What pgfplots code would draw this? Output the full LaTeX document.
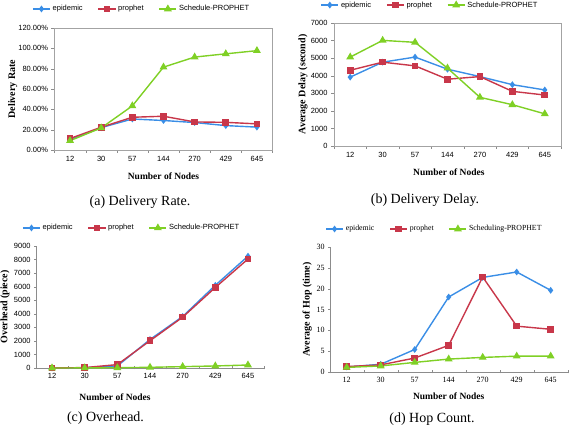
\documentclass[border=0pt]{standalone}
\usepackage{fontspec}
\setmainfont{Liberation Serif}
\setsansfont{Liberation Sans}
\usepackage{pgfplots}
\pgfplotsset{compat=1.18}
\definecolor{epi}{HTML}{3A8EE6}
\definecolor{pro}{HTML}{C8374A}
\definecolor{sch}{HTML}{7FD025}
\definecolor{axgray}{HTML}{8C8C8C}
\pgfplotsset{
  panel/.style={
    scale only axis, xmin=-0.5, xmax=6.5, ymin=0,
    xtick={0,...,6}, xticklabels={12,30,57,144,270,429,645},
    minor xtick={-0.5,0.5,...,6.5},
    major x tick style={draw=none},
    minor x tick style={axgray},
    y tick style={axgray},
    tick align=outside, xtick pos=left, ytick pos=left,
    major tick length=3pt, minor tick length=3pt,
    axis line style={axgray},
    /pgf/number format/assume math mode=true,
    /pgf/number format/set thousands separator={},
    tick label style={font=\sffamily\fontsize{7.5}{8}\selectfont},
    xlabel={Number of Nodes},
    xlabel style={font=\bfseries\fontsize{9.5}{11}\selectfont, anchor=center},
    ylabel style={font=\bfseries\fontsize{10}{11}\selectfont, anchor=center, rotate=0},
    legend columns=3,
    legend style={draw=none, fill=none, anchor=center, font=\sffamily\fontsize{7.5}{8}\selectfont,
      /tikz/every even column/.append style={column sep=13pt}},
    legend cell align=left,
    clip=false,
  },
  epis/.style={color=epi, line width=1.4pt, mark=diamond*, mark size=2.3pt, mark options={solid}},
  pros/.style={color=pro, line width=1.4pt, mark=square*, mark size=2.6pt},
  schs/.style={color=sch, line width=1.4pt, mark=triangle*, mark size=3.2pt},
}
\begin{document}
\begin{tikzpicture}
\path[use as bounding box] (0pt,0pt) rectangle (570pt,427pt);
% (a) Delivery Rate
\begin{axis}[panel, at={(54.5pt,277pt)}, anchor=south west, width=218pt, height=122pt,
  ymax=120, ytick={0,20,...,120},
  yticklabels={0.00\%,20.00\%,40.00\%,60.00\%,80.00\%,100.00\%,120.00\%},
  ylabel={Delivery Rate},
  xlabel style={at={(axis description cs:0.5,-0.213)}},
  ylabel style={at={(axis description cs:-0.192,0.5)}},
  legend style={at={(axis description cs:0.40,1.156)}},
  axis line style={draw=axgray!80}]
\addplot[epis] coordinates {(0,10) (1,22) (2,30.5) (3,29) (4,27) (5,24) (6,22.5)};
\addplot[pros] coordinates {(0,11.3) (1,22.4) (2,32.2) (3,33.2) (4,27.6) (5,27.2) (6,25.7)};
\addplot[schs] coordinates {(0,9.2) (1,21.7) (2,43.4) (3,81.5) (4,91.4) (5,94.6) (6,97.7)};
\legend{epidemic,prophet,Schedule-PROPHET}
\end{axis}
% (b) Delivery Delay
\begin{axis}[panel, at={(334pt,281pt)}, anchor=south west, width=227pt, height=123pt,
  ymax=7000, ytick={0,1000,...,7000},
  ylabel={Average Delay (second)},
  xlabel style={at={(axis description cs:0.506,-0.211)}},
  ylabel style={at={(axis description cs:-0.137,0.5)}},
  legend style={at={(axis description cs:0.423,1.146)}},
  axis line style={draw=axgray!80}]
\addplot[epis] coordinates {(0,3920) (1,4770) (2,5060) (3,4370) (4,3950) (5,3490) (6,3190)};
\addplot[pros] coordinates {(0,4310) (1,4770) (2,4560) (3,3800) (4,3950) (5,3110) (6,2900)};
\addplot[schs] coordinates {(0,5060) (1,6010) (2,5900) (3,4430) (4,2770) (5,2350) (6,1830)};
\legend{epidemic,prophet,Schedule-PROPHET}
\end{axis}
% (c) Overhead
\begin{axis}[panel, at={(35.7pt,59pt)}, anchor=south west, width=228.6pt, height=122pt,
  axis x line=bottom, axis y line=left, x axis line style={-}, y axis line style={-},
  ymax=9000, ytick={0,1000,...,9000},
  ylabel={Overhead (piece)},
  xlabel style={at={(axis description cs:0.347,-0.238)}},
  ylabel style={at={(axis description cs:-0.134,0.5)}},
  legend style={at={(axis description cs:0.42,1.148)}}]
\addplot[epis] coordinates {(0,0) (1,20) (2,150) (3,2100) (4,3800) (5,6100) (6,8250)};
\addplot[pros] coordinates {(0,0) (1,30) (2,250) (3,2010) (4,3750) (5,5940) (6,8040)};
\addplot[schs] coordinates {(0,0) (1,5) (2,20) (3,50) (4,100) (5,150) (6,220)};
\legend{epidemic,prophet,Schedule-PROPHET}
\end{axis}
% (d) Hop Count
\begin{axis}[panel, at={(329.7pt,55pt)}, anchor=south west, width=238pt, height=125pt,
  axis x line=bottom, axis y line=left, x axis line style={-}, y axis line style={-},
  ymax=30, ytick={0,5,...,30},
  tick label style={font=\rmfamily\fontsize{8}{9}\selectfont},
  legend style={font=\rmfamily\fontsize{7.8}{8}\selectfont},
  ylabel={Average of Hop (time)},
  xlabel style={at={(axis description cs:0.5,-0.19)}},
  ylabel style={at={(axis description cs:-0.095,0.5)}},
  legend style={at={(axis description cs:0.44,1.144)}}]
\addplot[epis] coordinates {(0,1.2) (1,1.85) (2,5.4) (3,18) (4,22.7) (5,24) (6,19.6)};
\addplot[pros] coordinates {(0,1.3) (1,1.7) (2,3.35) (3,6.4) (4,22.8) (5,11) (6,10.25)};
\addplot[schs] coordinates {(0,1.1) (1,1.45) (2,2.3) (3,3.1) (4,3.5) (5,3.8) (6,3.8)};
\legend{epidemic,prophet,Scheduling-PROPHET}
\end{axis}
% captions
\node[font=\fontsize{14}{16}\selectfont] at (140pt,225pt) {(a) Delivery Rate.};
\node[font=\fontsize{14}{16}\selectfont] at (425pt,227pt) {(b) Delivery Delay.};
\node[font=\fontsize{14}{16}\selectfont] at (105.5pt,9pt) {(c) Overhead.};
\node[font=\fontsize{14}{16}\selectfont] at (432pt,8pt) {(d) Hop Count.};
\end{tikzpicture}
\end{document}
